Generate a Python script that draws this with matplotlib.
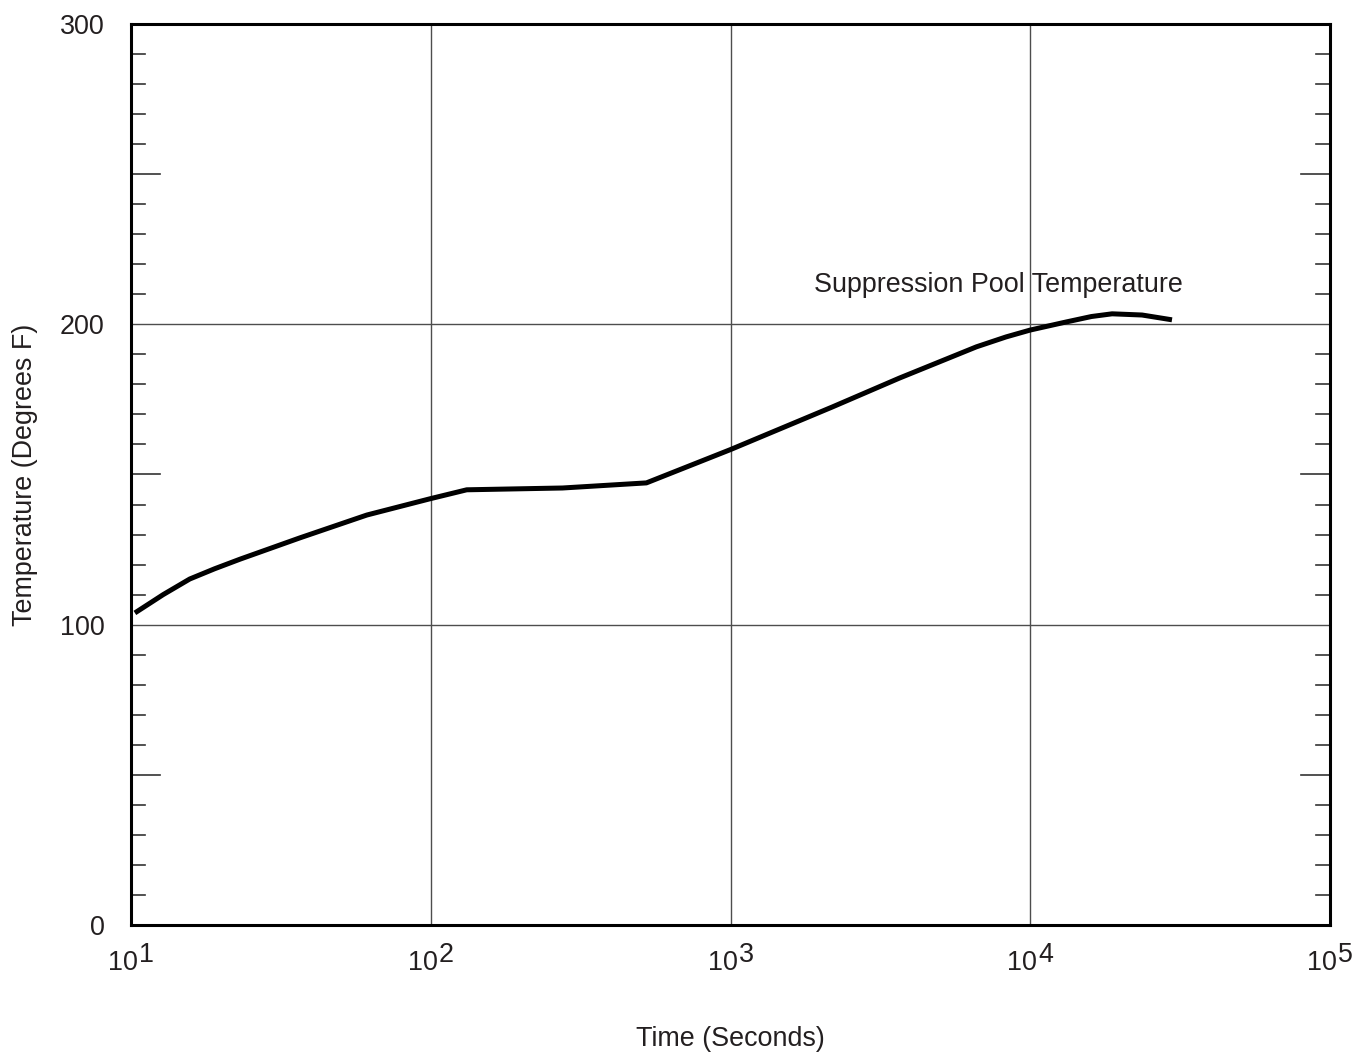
import matplotlib.pyplot as plt
import numpy as np
from matplotlib.ticker import FixedLocator, NullLocator
from matplotlib.transforms import ScaledTranslation

plt.rcParams['font.family'] = ['Liberation Sans', 'DejaVu Sans']

# suppression pool temperature vs time after the event
time_s = [10.3, 12.8, 15.7, 19.0, 23.1, 36.6, 61.2, 99.3, 131.8, 275, 524,
          1000, 2188, 3660, 6610, 8300, 10000, 13200, 16000, 18750, 23600,
          29700]
temp_f = [103.9, 110.0, 115.2, 118.6, 121.8, 128.9, 136.5, 141.9, 144.9,
          145.5, 147.2, 158.3, 172.5, 182.1, 192.5, 195.8, 198.1, 200.8,
          202.6, 203.5, 203.1, 201.5]

x_ticks = [1e1, 1e2, 1e3, 1e4, 1e5]
x_exps = ['1', '2', '3', '4', '5']
y_ticks = [0, 100, 200, 300]

txt = '#231f20'
fs = 19.4

fig = plt.figure(figsize=(13.58, 10.53), dpi=100)
ax = fig.add_axes([0.0965, 0.1216, 0.8829, 0.8556])

ax.plot(time_s, temp_f, color='black', lw=3.6, solid_capstyle='butt',
        solid_joinstyle='round')

ax.set_xscale('log')
ax.set_xlim(1e1, 1e5)
ax.set_ylim(0, 300)

ax.xaxis.set_major_locator(FixedLocator(x_ticks))
ax.xaxis.set_minor_locator(NullLocator())
ax.set_xticks(x_ticks, [''] * len(x_ticks))
ax.set_yticks(y_ticks)

ax.grid(True, which='major', color='#4d4d4d', lw=1.0)

ax.tick_params(axis='y', which='major', direction='in', length=0,
               labelsize=fs, labelcolor=txt, pad=19)
ax.tick_params(axis='x', which='major', length=0)

# decade labels: "10" with a full-size raised exponent
xt = ax.get_xaxis_transform()
for xv, e in zip(x_ticks, x_exps):
    base = xt + ScaledTranslation(0.07, -0.38, fig.dpi_scale_trans)
    sup = xt + ScaledTranslation(0.08, -0.30, fig.dpi_scale_trans)
    ax.text(xv, 0, '10', transform=base, ha='right', va='center',
            fontsize=fs, color=txt, clip_on=False)
    ax.text(xv, 0, e, transform=sup, ha='left', va='center',
            fontsize=fs, color=txt, clip_on=False)

# inward y ticks on both sides: long every 50, short every 10
yt = ax.get_yaxis_transform()
for v in range(10, 300, 10):
    if v % 100 == 0:
        continue
    ln = 0.024 if v % 50 == 0 else 0.012
    ax.plot([0, ln], [v, v], transform=yt, color='#333333', lw=1.2,
            clip_on=False)
    ax.plot([1 - ln, 1], [v, v], transform=yt, color='#333333', lw=1.2,
            clip_on=False)

for s in ax.spines.values():
    s.set_linewidth(2.2)
    s.set_color('black')

ax.set_xlabel('Time (Seconds)', fontsize=fs, color=txt)
ax.set_ylabel('Temperature (Degrees F)', fontsize=fs, color=txt)
ax.xaxis.set_label_coords(0.5, -0.112)
ax.yaxis.set_label_coords(-0.078, 0.5)

ax.text(1.9e3, 213, 'Suppression Pool Temperature', fontsize=fs, color=txt,
        ha='left', va='center')

fig.savefig('out.png', dpi=100)
